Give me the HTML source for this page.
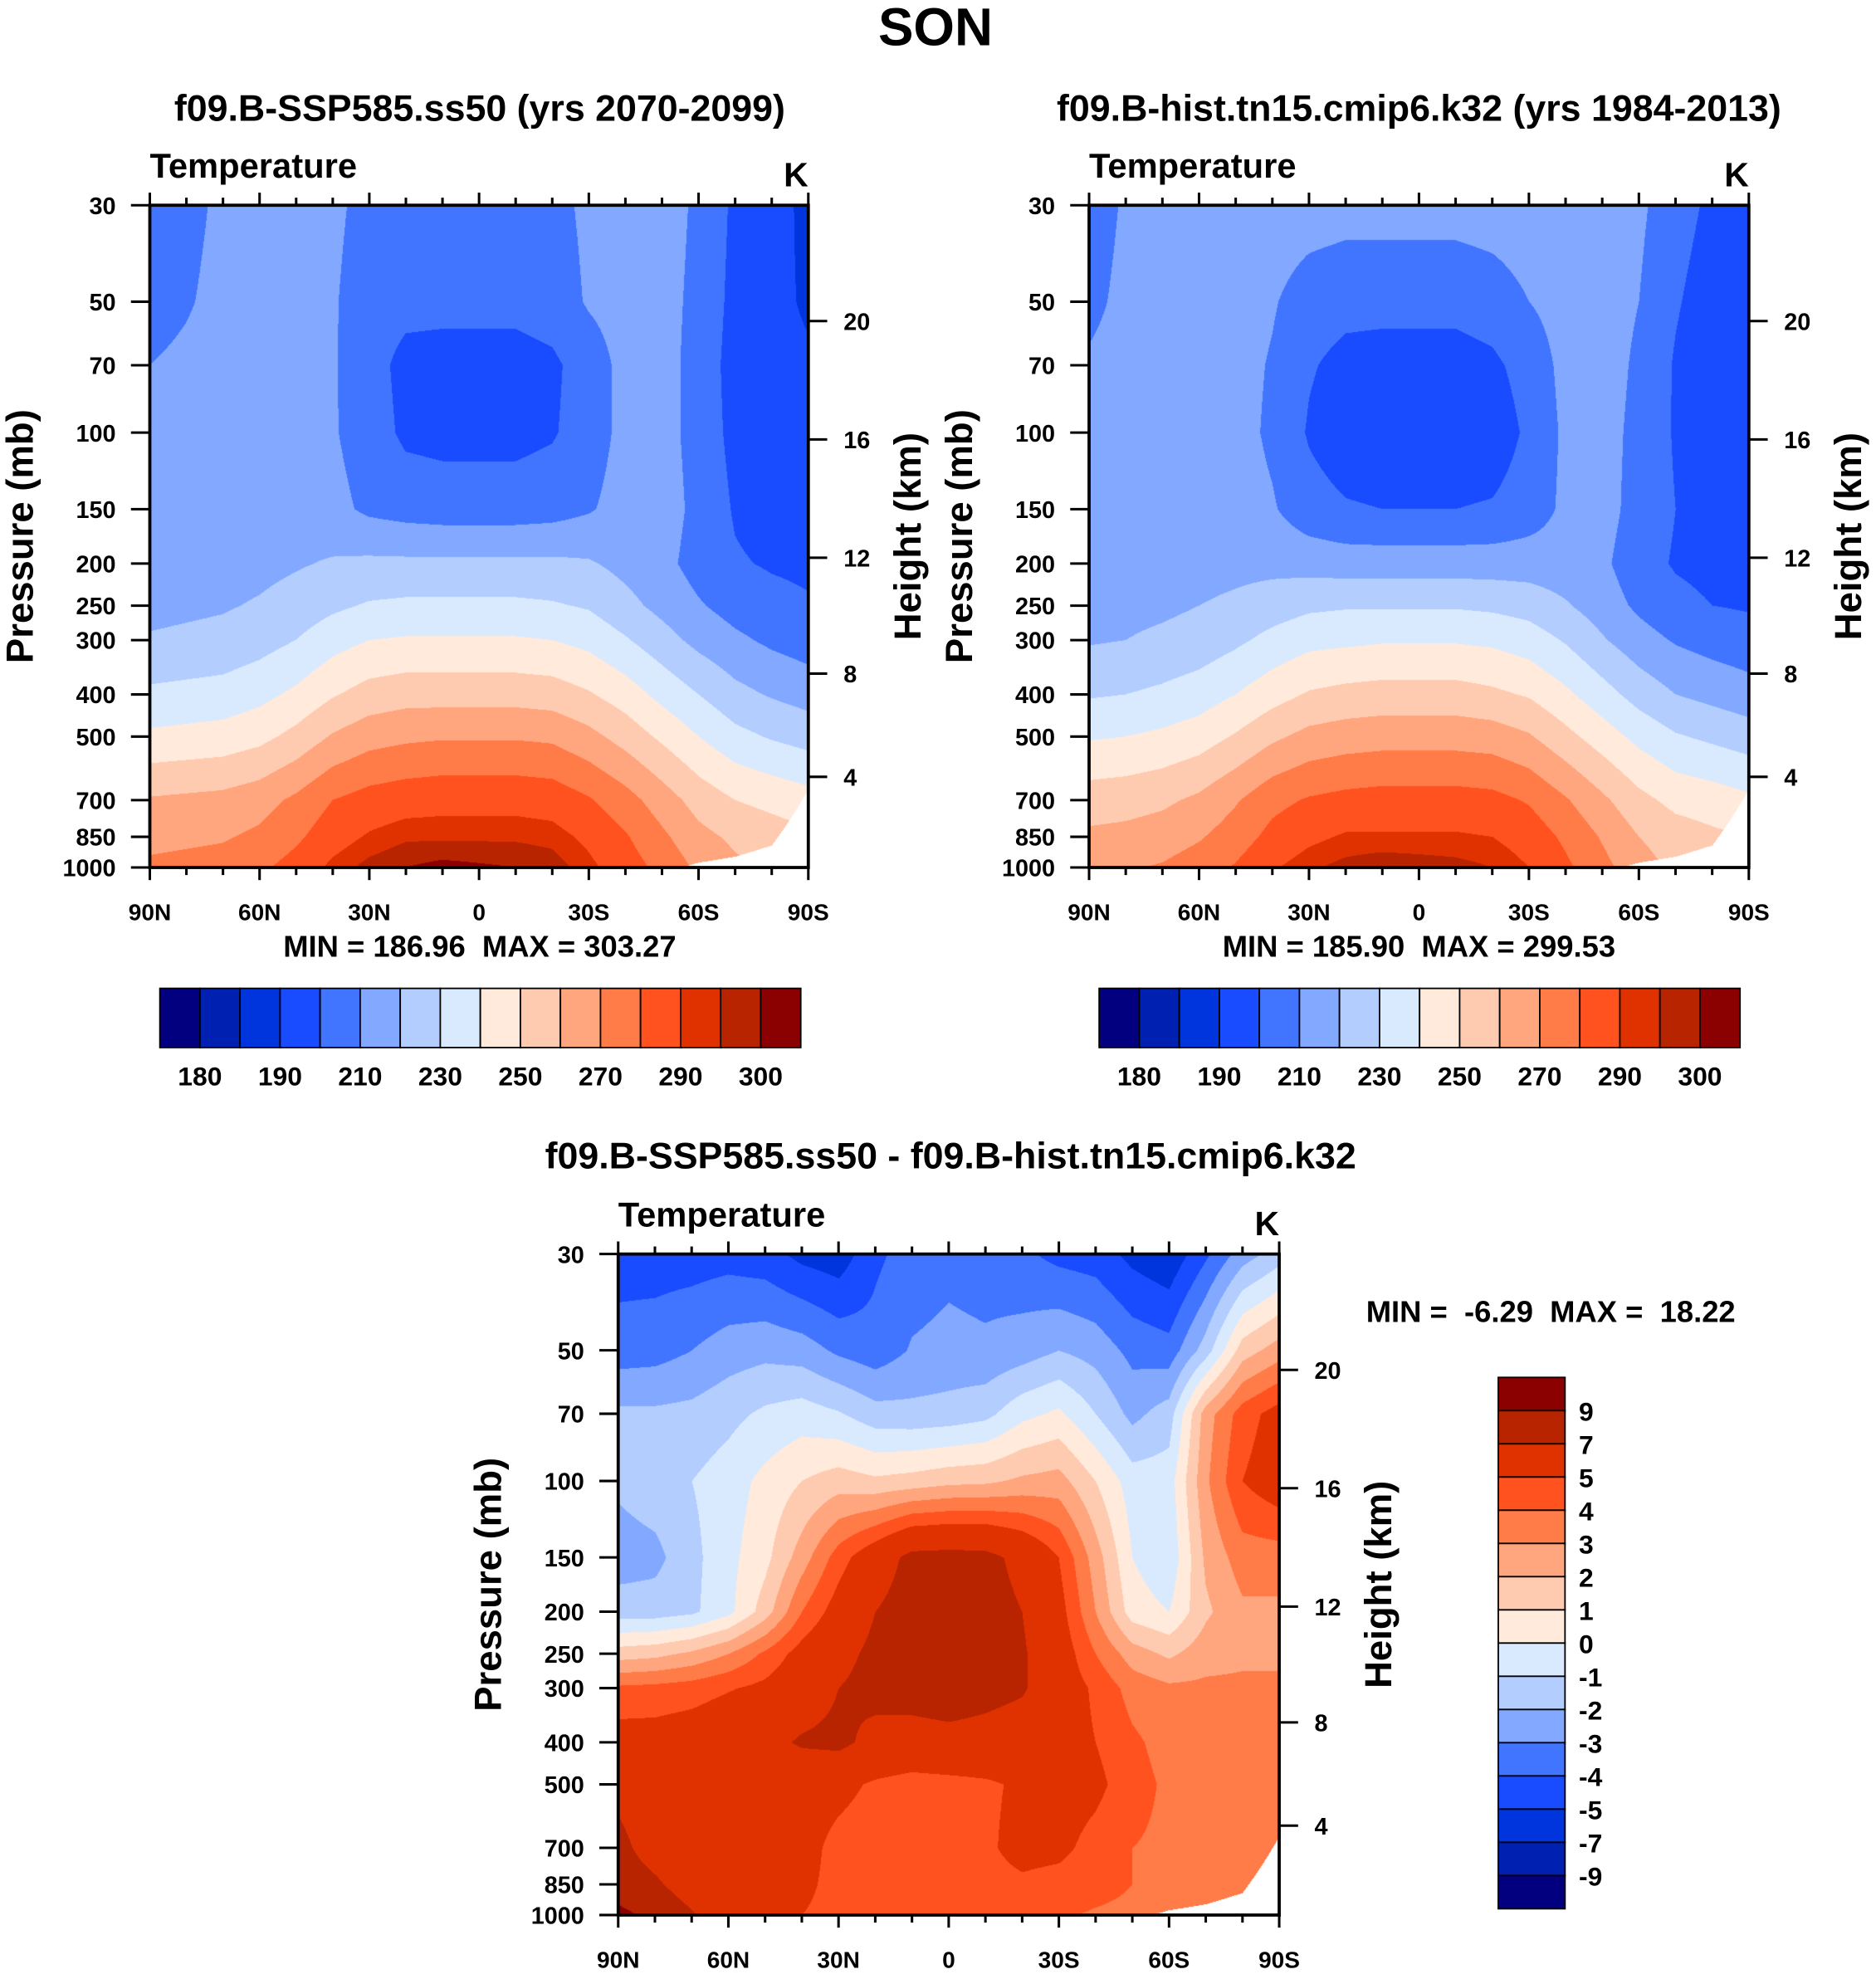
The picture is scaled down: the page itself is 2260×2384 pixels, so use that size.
<!DOCTYPE html>
<html><head><meta charset="utf-8">
<style>
html,body{margin:0;padding:0;background:#fff;}
#wrap{position:relative;width:2260px;height:2384px;overflow:hidden;background:#fff;}
canvas{position:absolute;}
svg{position:absolute;left:0;top:0;}
text{font-family:"Liberation Sans",Arial,sans-serif;font-weight:bold;fill:#000;}
</style></head>
<body>
<div id="wrap">
<canvas id="c1"></canvas>
<canvas id="c2"></canvas>
<canvas id="c3"></canvas>
<svg id="svg" width="2260" height="2384" viewBox="0 0 1490 1571.8" preserveAspectRatio="none"></svg>
</div>
<script>
const lats = [90,80,70,60,50,40,30,20,10,0,-10,-20,-30,-40,-50,-60,-70,-80,-90];
const plevs = [30,50,70,100,150,200,250,300,400,500,700,850,1000];
const surfP = [1100,1100,1100,1100,1100,1100,1100,1100,1100,1100,1100,1100,1100,1100,1030,975,945,890,660];
const sspT = [
[204,207,212,214,215,212,207,205,205,205,205,207,212,214,215,208,198,193,188],
[206,209,213,215,215,211,205,203,203,203,203,205,211,214,214,207,197,192,189],
[210,212,214,215,215,211,204,197,196,196,196,198,205,213,214,206,196,192,191],
[212,213,214,215,215,211,205,198,197,197,197,199,205,213,214,206,197,193,193],
[214,214,215,215,216,213,208,206,205,205,205,206,209,214,215,207,199,196,196],
[215,216,216,217,219,221,222,222,222,222,222,222,221,217,213,206,201,199,198],
[217,218,219,221,224,228,231,232,232,232,232,231,229,223,217,211,206,203,201],
[221,222,223,226,230,236,240,241,241,241,241,240,237,231,224,217,212,208,205],
[232,233,234,237,242,249,254,256,256,256,256,255,251,245,237,230,223,219,216],
[242,243,244,247,253,261,266,268,269,269,269,268,263,256,248,240,233,229,226],
[261,262,263,266,272,280,284,286,287,287,287,286,281,274,265,256,250,247,244],
[267,268,269,272,278,286,291,294,294,294,294,293,288,281,272,263,258,255,252],
[272,273,274,278,284,292,297,300,302,301,300,298,292,285,277,268,262,258,255]];
const histT = [
[206,211,214,215,216,216,215,214,214,214,214,215,216,216,216,212,204,198,194],
[208,212,214,215,215,211,205,203,203,203,203,205,210,214,215,210,201,195,192],
[211,213,214,215,214,209,201,197,196,196,196,198,204,213,215,208,199,193,191],
[213,214,215,215,214,208,199,194,193,193,193,194,202,212,214,207,199,194,193],
[214,215,215,215,215,211,204,201,200,200,200,201,205,212,214,206,200,197,196],
[215,215,216,216,217,217,216,215,215,215,215,215,215,214,212,204,199,197,196],
[216,217,218,220,222,225,228,229,229,229,229,228,226,221,215,208,203,200,199],
[219,220,222,224,228,233,237,238,239,239,239,238,235,229,221,214,209,206,204],
[229,230,232,235,240,246,251,253,254,254,254,252,249,242,234,226,220,217,214],
[239,240,242,245,251,258,263,265,266,266,266,265,261,253,245,237,231,228,225],
[255,256,258,262,269,277,281,283,284,284,284,283,279,271,262,253,247,245,242],
[262,263,265,269,275,283,288,291,291,291,291,290,286,278,269,260,255,252,250],
[268,269,271,275,281,289,294,297,299,298,297,295,290,282,273,264,258,254,251]];
const diffT = [
[-4.5,-4.5,-4.5,-4.4,-4.6,-5.3,-5.6,-4.2,-3.6,-3.3,-3.5,-3.8,-4.3,-4.5,-5.3,-5.8,-4.2,-2.5,-1.5],
[-3.5,-3.4,-3.0,-2.5,-2.3,-2.5,-3.2,-3.6,-2.9,-2.7,-2.8,-2.5,-2.0,-2.4,-3.3,-3.6,-1.5,1.5,2.5],
[-1.8,-1.8,-1.7,-1.3,-0.8,-0.5,-0.9,-1.6,-1.7,-1.6,-1.3,-0.3,0.2,-1.0,-2.3,-1.5,2.5,4.5,5.5],
[-1.8,-1.4,-1.0,-0.5,0.3,1.0,1.5,1.2,1.4,1.7,1.8,2.2,2.4,1.0,-0.5,-0.5,2.8,5.0,5.8],
[-2.5,-2.3,-1.3,-0.3,0.7,2.5,4.5,6.0,7.5,7.6,7.5,6.5,5.0,2.5,0.0,-0.8,2.2,3.5,3.5],
[-1.5,-1.5,-1.2,-0.3,1.5,4.0,5.6,7.0,7.8,8.0,7.7,7.0,5.5,3.0,0.5,0.0,1.8,2.8,2.8],
[1.5,1.7,2.2,3.0,4.2,5.5,6.5,7.4,7.8,8.0,7.7,7.2,5.8,4.0,2.5,1.8,2.6,2.8,2.8],
[4.2,4.3,4.5,4.9,5.3,6.0,7.0,7.5,7.8,8.0,7.6,7.2,5.8,4.8,3.6,3.2,3.2,3.2,3.2],
[5.6,5.6,5.8,6.2,6.5,7.2,7.4,6.5,6.2,6.4,6.3,6.0,5.6,5.0,4.2,3.6,3.5,3.4,3.4],
[6.5,5.8,5.6,5.7,5.7,5.7,5.4,4.8,4.5,4.6,4.8,5.2,5.6,5.3,4.4,3.8,3.7,3.6,3.6],
[7.5,6.2,5.7,5.6,5.6,5.5,4.6,4.3,4.4,4.5,4.8,5.4,5.3,4.6,4.0,3.8,3.7,3.6,3.6],
[8.0,7.3,6.0,5.6,5.5,5.3,4.6,4.3,4.4,4.4,4.6,4.8,4.6,4.3,4.0,3.9,3.7,3.6,3.6],
[9.5,8.5,7.2,5.6,5.3,5.0,4.6,4.2,4.2,4.2,4.3,4.3,4.1,3.9,3.8,3.8,3.7,3.6,3.6]];
const tempLevels = [180,185,190,200,210,220,230,240,250,260,270,280,290,295,300];
const tempLabels = ["180","190","210","230","250","270","290","300"];
const diffLevels = [-9,-7,-5,-4,-3,-2,-1,0,1,2,3,4,5,7,9];
const diffLabels = ["-9","-7","-5","-4","-3","-2","-1","0","1","2","3","4","5","7","9"];
const xLabels = ["90N","60N","30N","0","30S","60S","90S"];
const pLabels = [30,50,70,100,150,200,250,300,400,500,700,850,1000];
const hLabels = ["20","16","12","8","4"];

const colors = ["#02007f","#0020b2","#0035dd","#1a4cff","#4275ff","#82a9ff","#b3cdff","#d9eaff",
"#ffeadb","#ffcbb0","#ffa67f","#ff7b47","#ff521f","#e03200","#b82300","#8b0000"];
const S = 2260/1490;
const svg = document.getElementById('svg');
const NS = "http://www.w3.org/2000/svg";
function mk(tag, attrs, parent){const e=document.createElementNS(NS,tag);for(const k in attrs)e.setAttribute(k,attrs[k]);(parent||svg).appendChild(e);return e;}
function txt(x,y,s,size,anchor,parent){const t=mk('text',{x:x,y:y,'font-size':size,'text-anchor':anchor||'start'},parent);t.textContent=s;return t;}

function colorIdx(v, lev){let i=0;while(i<lev.length && v>=lev[i])i++;return i;}
function hex(c){return [parseInt(c.substr(1,2),16),parseInt(c.substr(3,2),16),parseInt(c.substr(5,2),16)];}
const rgb = colors.map(hex);

function drawField(id, data, lev, x0,y0,w,h){
  const cv=document.getElementById(id);
  const L=Math.round(x0*S),T=Math.round(y0*S),W=Math.round((x0+w)*S)-L,H=Math.round((y0+h)*S)-T;
  cv.width=W;cv.height=H;cv.style.left=L+'px';cv.style.top=T+'px';
  const ctx=cv.getContext('2d');const img=ctx.createImageData(W,H);
  const lp0=Math.log(plevs[0]),lp1=Math.log(plevs[plevs.length-1]);
  const lpl=plevs.map(Math.log);
  for(let py=0;py<H;py++){
    const lp=lp0+(lp1-lp0)*(py+0.5)/H;
    const p=Math.exp(lp);
    let j=0;while(j<plevs.length-2 && lp>lpl[j+1])j++;
    const fy=(lp-lpl[j])/(lpl[j+1]-lpl[j]);
    for(let px=0;px<W;px++){
      const lat=90-180*(px+0.5)/W;
      let i=Math.min(17,Math.floor((90-lat)/10));
      const fx=((90-lat)-i*10)/10;
      const sp=surfP[i]*(1-fx)+surfP[i+1]*fx;
      const o=(py*W+px)*4;
      img.data[o+3]=255;
      if(p>sp){img.data[o]=255;img.data[o+1]=255;img.data[o+2]=255;continue;}
      const a=data[j][i],b=data[j][i+1],c=data[j+1][i],d=data[j+1][i+1];
      const v=(a*(1-fx)+b*fx)*(1-fy)+(c*(1-fx)+d*fx)*fy;
      const col=rgb[colorIdx(v,lev)];
      img.data[o]=col[0];img.data[o+1]=col[1];img.data[o+2]=col[2];
    }
  }
  ctx.putImageData(img,0,0);
}

function yP(p,y0,h){return y0+h*Math.log(p/30)/Math.log(1000/30);}
const hOff=[92,186,280,372,454];

function axes(x0,y0,w,h,name){
  const g=mk('g',{});
  
  
  mk('rect',{x:x0,y:y0,width:w,height:h,fill:'none',stroke:'#000','stroke-width':2.5},g);
  for(let k=0;k<=18;k++){
    const x=x0+w*k/18;const major=k%3===0;const len=major?10:6;
    mk('line',{x1:x,y1:y0,x2:x,y2:y0-len,stroke:'#000','stroke-width':2},g);
    mk('line',{x1:x,y1:y0+h,x2:x,y2:y0+h+len,stroke:'#000','stroke-width':2},g);
  }
  xLabels.forEach((s,k)=>{const t=txt(x0+w*k/6,y0+h+42,s,18.5,'middle',g);
    
    });
  pLabels.forEach(p=>{const y=yP(p,y0,h);
    mk('line',{x1:x0,y1:y,x2:x0-15,y2:y,stroke:'#000','stroke-width':2},g);
    const t=txt(x0-27,y+7,String(p),19,'end',g);
    
    });
  hLabels.forEach((s,k)=>{const y=y0+hOff[k];
    mk('line',{x1:x0+w,y1:y,x2:x0+w+15,y2:y,stroke:'#000','stroke-width':2},g);
    const t=txt(x0+w+28,y+7,s,19,'start',g);
    
    });
  const t1=txt(x0,y0-22,'Temperature',27.5,'start',g);
  
  
  const t2=txt(x0+w,y0-15,'K',27,'end',g);
  
  
  const py=txt(0,0,'Pressure (mb)',30,'middle',g);
  py.setAttribute('transform',`translate(${x0-93},${y0+h/2}) rotate(-90)`);
  
  
  const hy=txt(0,0,'Height (km)',30,'middle',g);
  hy.setAttribute('transform',`translate(${x0+w+89},${y0+h/2}) rotate(-90)`);
  
  
}

function hbar(x0,y0,w,h,name){
  const g=mk('g',{});
  
  
  const bw=w/colors.length;
  colors.forEach((c,k)=>{const r=mk('rect',{x:x0+k*bw,y:y0,width:bw,height:h,fill:c,stroke:'#000','stroke-width':1.2},g);
    
    });
  tempLabels.forEach((s,k)=>{const t=txt(x0+(2*k+1)*bw,y0+h+30,s,21,'middle',g);
    
    });
}
function vbar(x0,y0,w,h,name){
  const g=mk('g',{});
  
  
  const bh=h/colors.length;
  colors.slice().reverse().forEach((c,k)=>{const r=mk('rect',{x:x0,y:y0+k*bh,width:w,height:bh,fill:c,stroke:'#000','stroke-width':1.2},g);
    
    });
  diffLabels.slice().reverse().forEach((s,k)=>{const t=txt(x0+w+11,y0+(k+1)*bh+8,s,21,'start',g);
    
    });
}

drawField('c1',sspT,tempLevels,119,163,523,526);
drawField('c2',histT,tempLevels,865,163,524,526);
drawField('c3',diffT,diffLevels,491,996,525,525);

axes(119,163,523,526,'ssp585');
axes(865,163,524,526,'hist');
axes(491,996,525,525,'difference');

const tt=txt(743,36,'SON',42,'middle');


const t1=txt(381,96,'f09.B-SSP585.ss50 (yrs 2070-2099)',29.5,'middle');


const t2=txt(1127,96,'f09.B-hist.tn15.cmip6.k32 (yrs 1984-2013)',29.5,'middle');


const t3=txt(755,928,'f09.B-SSP585.ss50 - f09.B-hist.tn15.cmip6.k32',29.5,'middle');


const m1=txt(381,760,'MIN = 186.96  MAX = 303.27',24,'middle');


m1.setAttribute('style','white-space:pre');
const m2=txt(1127,760,'MIN = 185.90  MAX = 299.53',24,'middle');


m2.setAttribute('style','white-space:pre');
const m3=txt(1085,1050,'MIN =  -6.29  MAX =  18.22',24,'start');


m3.setAttribute('style','white-space:pre');

hbar(127,785,509,47,'panel1-colorbar');
hbar(873,785,509,47,'panel2-colorbar');
vbar(1190,1094,53,422,'panel3-colorbar');
</script>
</body></html>
